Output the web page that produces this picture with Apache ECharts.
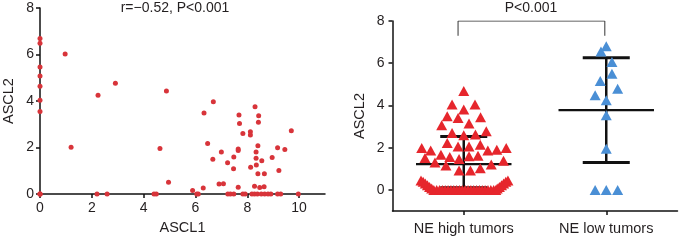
<!DOCTYPE html>
<html><head><meta charset="utf-8">
<script src="https://cdn.jsdelivr.net/npm/echarts@6/dist/echarts.min.js"></script>
<style>html,body{margin:0;padding:0;background:#fff}#c{width:679px;height:240px}</style>
</head><body><div id="c"></div>
<script>
// ---- Left panel: ASCL1 vs ASCL2 correlation ----
const ascl1 = [0,0,0,0,0,0,0,0,0,0,
  0.97,1.2,2.24,2.91,2.2,2.59,
  4.4,4.49,4.63,4.88,4.96,
  5.89,6.05,6.11,6.30,6.33,6.47,6.67,6.69,
  6.91,7.0,7.08,7.24,7.25,7.35,7.47,7.48,7.48,
  7.65,7.65,7.65,7.68,7.70,7.83,7.83,7.92,
  8.12,8.12,8.13,8.18,8.28,8.28,8.30,8.34,8.34,8.35,8.39,8.41,8.41,8.43,8.44,8.48,8.54,8.56,8.65,8.66,8.67,8.80,8.91,
  8.96,9.17,9.17,9.22,9.29,9.45,9.70,9.97];
const ascl2 = [6.69,6.48,5.46,5.08,4.64,4.03,3.55,0,0,0,
  6.02,2.01,4.25,4.76,0,0,
  0,0,1.96,4.43,0.51,
  0.16,0,0,0.26,3.49,2.18,1.50,3.97,
  0.43,1.81,0.45,1.35,0,0,1.09,1.59,0,
  1.94,1.87,0.29,3.40,3.04,2.60,0,0,
  2.68,2.54,1.15,0,0,0.34,3.76,1.81,1.54,1.25,0,2.08,0.87,3.09,3.37,0.28,0,1.43,0.32,0.87,0,0,0,
  1.57,1.99,0,1.01,0,1.92,2.72,0];
const leftXTicks = [0,2,4,6,8,10];
const corrText = 'r=\u22120.52, P<0.001';

// ---- Right panel: ASCL2 by group ----
const groupLabels = ['NE high tumors', 'NE low tumors'];
const neHighValues = [4.68,4.05,4.05,3.81,3.49,3.44,3.41,3.14,3.06,2.78,2.70,2.62,2.59,
  2.22,2.14,2.06,2.06,1.98,1.98,1.90,1.86,1.86,1.67,1.62,1.59,1.56,1.51,1.46,1.38,1.30,1.20,1.15,1.03,0.92,0.92,
  0.45,0.38,0.30,0.22,0.14,0.07,
  0,0,0,0,0,0,0,0,0,0,0,0,0,0,0,0,0,0,0,0,0,0,0,
  0.07,0.14,0.22,0.30,0.38,0.45];
const neHighJitter = [0,-0.082,0.079,0,-0.116,0.118,-0.04,0.037,-0.155,0.158,-0.082,0.082,0,
  -0.116,0.116,-0.04,0.037,-0.295,0.298,0.232,-0.232,0.169,-0.16,0.10,0.037,-0.098,-0.272,-0.033,0.279,-0.202,0.193,-0.125,0.116,-0.033,0.047,
  -0.30,-0.285,-0.27,-0.255,-0.24,-0.225,
  -0.21,-0.19,-0.17,-0.15,-0.13,-0.11,-0.09,-0.07,-0.05,-0.03,-0.01,0.01,0.03,0.05,0.07,0.09,0.11,0.13,0.15,0.17,0.19,0.21,0.225,
  0.235,0.25,0.265,0.28,0.295,0.31];
const neLowValues = [6.8,6.56,6.06,5.5,5.16,4.79,4.48,4.25,3.54,1.95,0,0,0];
const neLowJitter = [0,-0.037,0.04,0.04,-0.042,0.08,-0.078,0,0,0,-0.078,0,0.08];
const groupMean = [1.22, 3.78];
const groupLower = [0.1, 1.30];
const groupUpper = [2.53, 6.26];
const rightYTicks = [0,2,4,6,8];
const bracketX = [-0.04, 0.99];
const bracketY = [7.3, 8];
const pText = 'P<0.001';

const FONT = '"Liberation Sans", Arial, sans-serif';
const TXT = '#231f20';
const AX = {lineStyle:{color:'#111', width:1.5}, onZero:false};

const chart = echarts.init(document.getElementById('c'));
chart.setOption({
  animation:false,
  backgroundColor:'#fff',
  textStyle:{fontFamily:FONT},
  title:[
    {text:corrText, left:175, top:1.5, padding:0, textAlign:'center',
     textStyle:{fontSize:14, fontWeight:'normal', color:TXT, fontFamily:FONT}},
    {text:pText, left:531, top:1.5, padding:0, textAlign:'center',
     textStyle:{fontSize:14, fontWeight:'normal', color:TXT, fontFamily:FONT}}
  ],
  grid:[
    {left:40, top:8, width:285, height:190},
    {left:392.5, top:21, width:285, height:190}
  ],
  xAxis:[
    {gridIndex:0, type:'value', min:0, max:11,
     axisLine:AX, splitLine:{show:false},
     axisTick:{customValues:leftXTicks, length:4, lineStyle:{color:'#111', width:1.5}},
     axisLabel:{customValues:leftXTicks, fontSize:14, color:TXT, margin:7},
     name:'ASCL1', nameLocation:'middle', nameGap:22,
     nameTextStyle:{fontSize:14.5, color:TXT}},
    {gridIndex:1, type:'value', min:-0.5, max:1.5,
     axisLine:AX, splitLine:{show:false},
     axisTick:{customValues:[0,1], length:4, lineStyle:{color:'#111', width:1.5}},
     axisLabel:{customValues:[0,1], fontSize:14.5, color:TXT, margin:10,
       formatter:v => groupLabels[Math.round(v)]}}
  ],
  yAxis:[
    {gridIndex:0, type:'value', min:0, max:8, interval:2,
     axisLine:{show:true, lineStyle:{color:'#111', width:1.5}, onZero:false}, splitLine:{show:false},
     axisTick:{show:true, length:4, lineStyle:{color:'#111', width:1.5}},
     axisLabel:{fontSize:14, color:TXT, margin:6},
     name:'ASCL2', nameLocation:'middle', nameGap:24,
     nameTextStyle:{fontSize:14.5, color:TXT}},
    {gridIndex:1, type:'value', min:-1, max:8,
     axisLine:{show:true, lineStyle:{color:'#111', width:1.5}, onZero:false}, splitLine:{show:false},
     axisTick:{show:true, customValues:rightYTicks, length:4, lineStyle:{color:'#111', width:1.5}},
     axisLabel:{customValues:rightYTicks, fontSize:14, color:TXT, margin:8},
     name:'ASCL2', nameLocation:'middle', nameGap:25,
     nameTextStyle:{fontSize:14.5, color:TXT}}
  ],
  series:[
    {type:'scatter', xAxisIndex:0, yAxisIndex:0, clip:false, z:5,
     symbolSize:5, itemStyle:{color:'#d8343a', opacity:1},
     data: ascl1.map((x,i)=>[x, ascl2[i]])},
    {type:'custom', xAxisIndex:1, yAxisIndex:1, z:2, clip:false,
     data: groupMean.map((m,i)=>[i, m, groupLower[i], groupUpper[i]]),
     encode:{x:0, y:[1,2,3]},
     renderItem:(params, api)=>{
       const c = api.value(0), m = api.value(1), lo = api.value(2), hi = api.value(3);
       const pm = api.coord([c, m]), pl = api.coord([c, lo]), ph = api.coord([c, hi]);
       const half = api.coord([c + 0.335, m])[0] - pm[0];
       const cap = api.coord([c + 0.165, m])[0] - pm[0];
       const st = w => ({stroke:'#111', lineWidth:w});
       return {type:'group', children:[
         {type:'line', shape:{x1:pm[0], y1:pl[1], x2:pm[0], y2:ph[1]}, style:st(2.5)},
         {type:'line', shape:{x1:pm[0]-half, y1:pm[1], x2:pm[0]+half, y2:pm[1]}, style:st(2.2)},
         {type:'line', shape:{x1:pm[0]-cap, y1:ph[1], x2:pm[0]+cap, y2:ph[1]}, style:st(3)},
         {type:'line', shape:{x1:pm[0]-cap, y1:pl[1], x2:pm[0]+cap, y2:pl[1]}, style:st(3)}
       ]};
     }},
    {type:'scatter', xAxisIndex:1, yAxisIndex:1, clip:false, z:4,
     symbol:'triangle', symbolSize:[11,10], itemStyle:{color:'#e6262c', opacity:1},
     data: neHighValues.map((v,i)=>[neHighJitter[i], v])},
    {type:'scatter', xAxisIndex:1, yAxisIndex:1, clip:false, z:4,
     symbol:'triangle', symbolSize:[11,10], itemStyle:{color:'#4a8fd5', opacity:1},
     data: neLowValues.map((v,i)=>[1 + neLowJitter[i], v])},
    {type:'line', xAxisIndex:1, yAxisIndex:1, symbol:'none', silent:true, z:3,
     lineStyle:{color:'#333', width:1},
     data:[[bracketX[0], bracketY[0]],[bracketX[0], bracketY[1]],[bracketX[1], bracketY[1]],[bracketX[1], bracketY[0]]]}
  ]
});
</script>
</body></html>
